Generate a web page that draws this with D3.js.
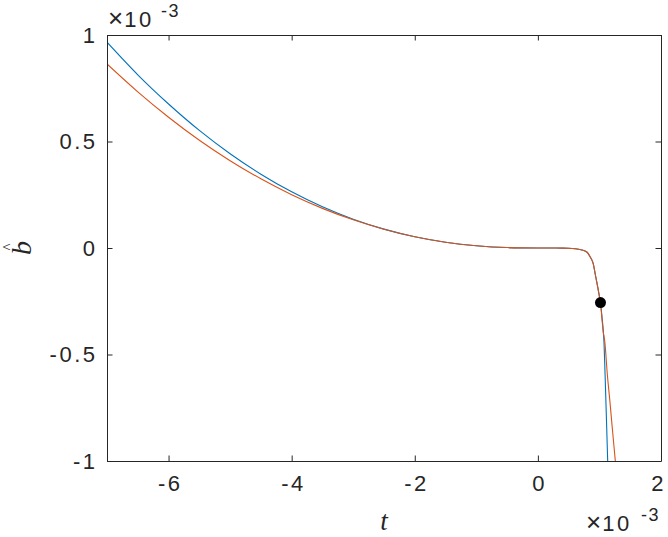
<!DOCTYPE html>
<html>
<head>
<meta charset="utf-8">
<script src="https://cdn.jsdelivr.net/npm/d3@7"></script>
<style>
  html, body { margin: 0; padding: 0; background: #fff; }
  svg { display: block; }
</style>
</head>
<body>
<svg id="chart" width="668" height="537"></svg>
<script>
// Values in units of 1e-3 (both axes)
const tBlue = [-7, -6.5, -6, -5.5, -5, -4.5, -4, -3.5, -3, -2.5, -2, -1.5, -1, -0.5, 0, 0.2, 0.4, 0.5, 0.6, 0.7, 0.8, 0.85, 0.9, 0.93, 0.97, 1.0, 1.017, 1.04, 1.06, 1.075, 1.09, 1.105, 1.12, 1.134];
const bBlue = [0.966, 0.813, 0.676, 0.552, 0.4425, 0.3466, 0.2637, 0.1935, 0.1353, 0.0886, 0.0528, 0.0271, 0.0106, 0.0021, 0, -0.0002, -0.0005, -0.001, -0.003, -0.008, -0.02, -0.042, -0.075, -0.12, -0.18, -0.228, -0.256, -0.32, -0.38, -0.45, -0.58, -0.72, -0.865, -1.0];
const tOrange = [-7, -6.5, -6, -5.5, -5, -4.5, -4, -3.5, -3, -2.5, -2, -1.5, -1, -0.5, 0, 0.2, 0.4, 0.5, 0.6, 0.7, 0.8, 0.85, 0.9, 0.93, 0.97, 1.0, 1.017, 1.04, 1.06, 1.085, 1.13, 1.17, 1.21, 1.258];
const bOrange = [0.864, 0.7333, 0.614, 0.506, 0.410, 0.3247, 0.2501, 0.186, 0.1322, 0.0880, 0.0528, 0.0271, 0.0106, 0.0021, 0, -0.0002, -0.0005, -0.001, -0.003, -0.008, -0.02, -0.042, -0.075, -0.12, -0.18, -0.228, -0.256, -0.33, -0.39, -0.435, -0.6, -0.72, -0.85, -1.0];
const markerPoint = [1.017, -0.256];
const xTicks = [-6, -4, -2, 0, 2];
const yTicks = [-1, -0.5, 0, 0.5, 1];
const xDomain = [-7, 2];
const yDomain = [-1, 1];

const svg = d3.select("#chart");
const L = 107, R = 661, T = 35, B = 461;
const x = d3.scaleLinear().domain(xDomain).range([L, R]);
const y = d3.scaleLinear().domain(yDomain).range([B, T]);

const font = "'Liberation Sans', Arial, Helvetica, sans-serif";
const axisColor = "#262626";
const spacing = 2.5;

svg.append("defs").append("clipPath").attr("id", "clip")
  .append("rect").attr("x", L).attr("y", T).attr("width", R - L).attr("height", B - T);

const line = d3.line().x(d => x(d[0])).y(d => y(d[1])).curve(d3.curveMonotoneX);
const plot = svg.append("g").attr("clip-path", "url(#clip)");
plot.append("path").datum(tBlue.map((t, i) => [t, bBlue[i]]))
  .attr("d", line).attr("fill", "none").attr("stroke", "#0072BD").attr("stroke-width", 1.1);
plot.append("path").datum(tOrange.map((t, i) => [t, bOrange[i]]))
  .attr("d", line).attr("fill", "none").attr("stroke", "#D95319").attr("stroke-width", 1.1);

svg.append("circle").attr("cx", x(markerPoint[0])).attr("cy", y(markerPoint[1]))
  .attr("r", 5.5).attr("fill", "#000");

// Axes (box with inward ticks)
const tickLen = 5.5;
const fmt = d => String(d);
const xb = svg.append("g").attr("transform", `translate(0,${B})`)
  .call(d3.axisBottom(x).tickValues(xTicks).tickSizeInner(-tickLen).tickSizeOuter(0).tickPadding(14).tickFormat(fmt));
const xt = svg.append("g").attr("transform", `translate(0,${T})`)
  .call(d3.axisTop(x).tickValues(xTicks).tickSizeInner(-tickLen).tickSizeOuter(0).tickFormat(""));
const yl = svg.append("g").attr("transform", `translate(${L},0)`)
  .call(d3.axisLeft(y).tickValues(yTicks).tickSizeInner(-tickLen).tickSizeOuter(0).tickPadding(12 - spacing).tickFormat(fmt));
const yr = svg.append("g").attr("transform", `translate(${R},0)`)
  .call(d3.axisRight(y).tickValues(yTicks).tickSizeInner(-tickLen).tickSizeOuter(0).tickFormat(""));

[xb, xt, yl, yr].forEach(g => {
  g.selectAll("path.domain").attr("stroke", axisColor).attr("stroke-width", 1);
  g.selectAll(".tick line").attr("stroke", axisColor).attr("stroke-width", 1);
  g.selectAll(".tick text").attr("fill", "#262626").attr("font-family", font)
    .attr("font-size", 22).attr("letter-spacing", spacing);
});
xb.selectAll(".tick text").attr("dx", d => d === 2 ? -3 : spacing / 2);

// Exponent labels
function expLabel(x0, base, supX, supBase) {
  const t = svg.append("text").attr("x", x0).attr("y", base)
    .attr("font-family", font).attr("font-size", 22).attr("fill", "#262626");
  t.append("tspan").attr("font-size", 26).text("×");
  t.append("tspan").attr("dx", 1).attr("letter-spacing", spacing).text("10");
  svg.append("text").attr("x", supX).attr("y", supBase)
    .attr("font-family", font).attr("font-size", 18).attr("fill", "#262626")
    .attr("letter-spacing", 1.5).text("-3");
}
expLabel(108, 27, 161, 17);
expLabel(586, 531, 641, 521);

// Axis labels
const serif = "'Liberation Serif', 'DejaVu Serif', serif";
svg.append("text").attr("x", 384).attr("y", 530).attr("text-anchor", "middle")
  .attr("font-family", serif).attr("font-style", "italic").attr("font-size", 27)
  .attr("fill", "#262626").text("t");

const yLab = svg.append("g").attr("transform", "translate(31,248) rotate(-90)");
yLab.append("text").attr("x", 0).attr("y", 0).attr("text-anchor", "middle")
  .attr("font-family", serif).attr("font-style", "italic").attr("font-size", 28)
  .attr("fill", "#262626").text("b");
yLab.append("text").attr("x", 1).attr("y", -18).attr("text-anchor", "middle")
  .attr("font-family", serif).attr("font-size", 15)
  .attr("fill", "#262626").text("^");
</script>
</body>
</html>
